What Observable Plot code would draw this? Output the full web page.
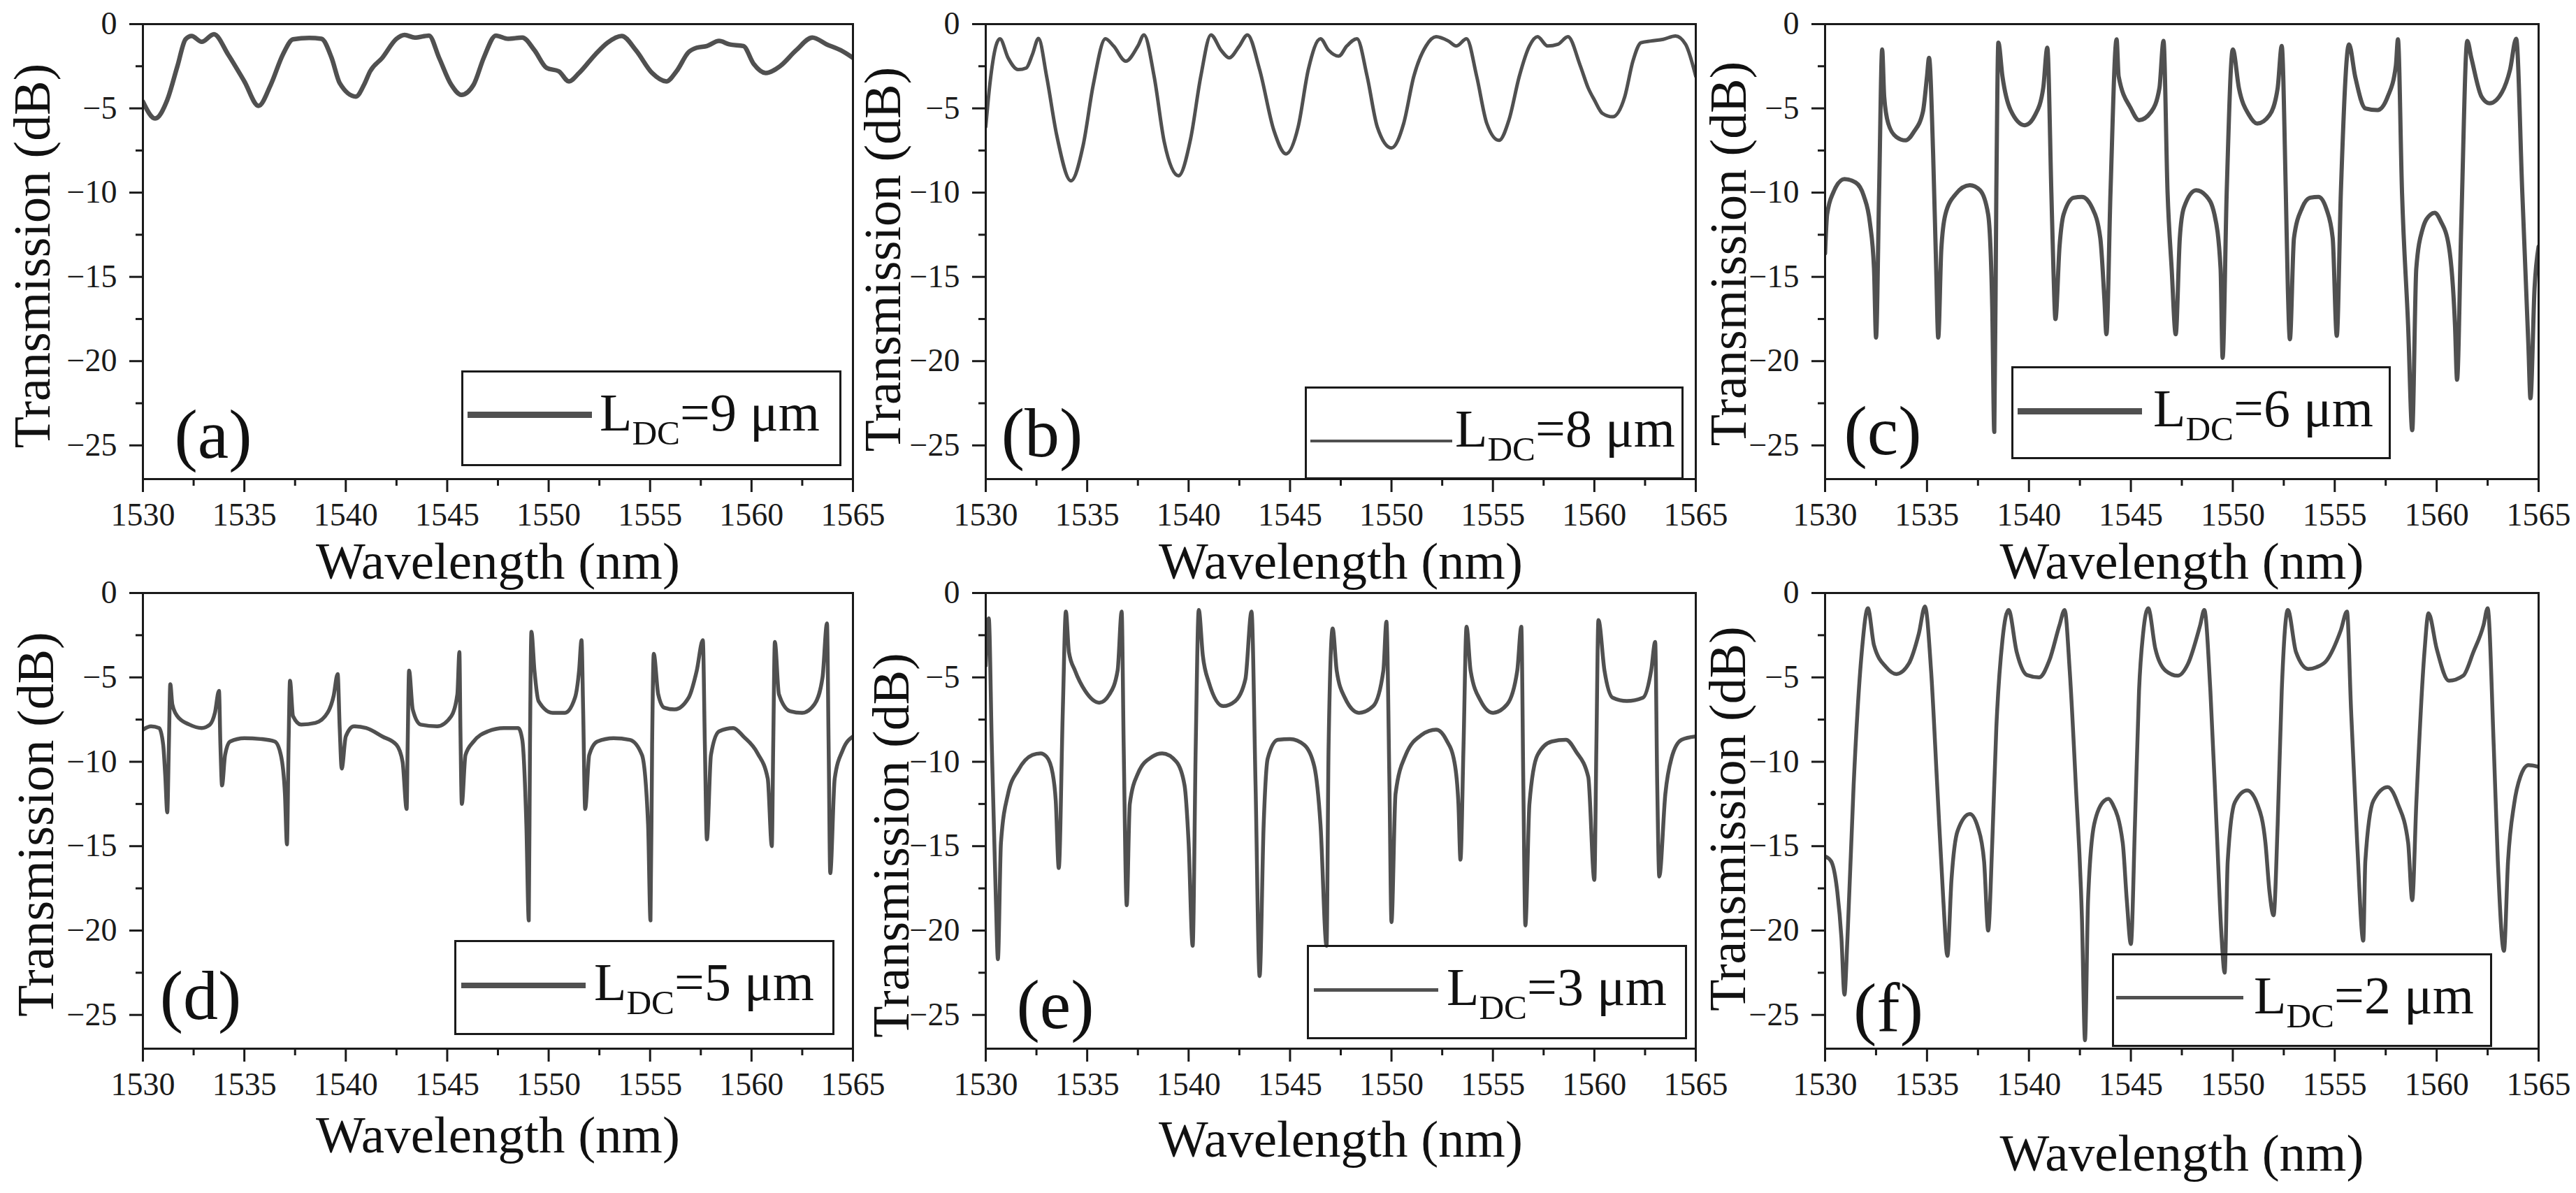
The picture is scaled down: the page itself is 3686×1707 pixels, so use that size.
<!DOCTYPE html>
<html><head><meta charset="utf-8">
<script src="https://cdn.jsdelivr.net/npm/d3@7"></script>
<script src="https://cdn.jsdelivr.net/npm/@observablehq/plot@0.6"></script>
<style>
html,body{margin:0;padding:0;background:#fff;}
#fig{position:relative;width:3686px;height:1707px;overflow:hidden;background:#fff;font-family:"Liberation Serif","Times New Roman",serif;color:#111;}
.pp{position:absolute;}
.pp svg text{font-family:"Liberation Serif","Times New Roman",serif;}
.legend{position:absolute;border:3px solid #1a1a1a;box-sizing:border-box;}
.legend .ln{position:absolute;background:#505050;}
.legend .txt{position:absolute;font-size:76px;line-height:1;white-space:nowrap;color:#111;}
.legend .sub{font-size:0.65em;position:relative;top:0.4em;}
.plabel{position:absolute;font-size:100px;line-height:1;transform:translate(-50%,-50%);white-space:nowrap;color:#111;}
</style></head><body><div id="fig"></div>
<script>
// ---------- data (wavelength nm, transmission dB) ----------
const xTicks = [1530,1535,1540,1545,1550,1555,1560,1565];
const xMinor = [1532.5,1537.5,1542.5,1547.5,1552.5,1557.5,1562.5];
const yTicks = [0,-5,-10,-15,-20,-25];
const yMinor = [-2.5,-7.5,-12.5,-17.5,-22.5];
const ldcValues = [9,8,6,5,3,2];
const panelLetters = ["(a)","(b)","(c)","(d)","(e)","(f)"];

const curveA = [[1530.0,-4.6],[1530.6,-5.6],[1531.2,-4.5],[1531.7,-2.5],[1532.1,-0.9],[1532.4,-0.7],[1532.9,-1.05],[1533.5,-0.6],[1534.2,-1.8],[1535.0,-3.4],[1535.7,-4.85],[1536.3,-3.6],[1536.9,-1.8],[1537.4,-0.9],[1538.2,-0.82],[1538.8,-0.87],[1539.3,-2.0],[1539.7,-3.5],[1540.5,-4.3],[1540.9,-3.6],[1541.2,-2.8],[1541.8,-2.0],[1542.5,-0.87],[1542.9,-0.64],[1543.4,-0.8],[1544.1,-0.68],[1544.6,-2.0],[1545.2,-3.6],[1545.7,-4.2],[1546.3,-3.6],[1546.8,-2.0],[1547.4,-0.68],[1548.0,-0.87],[1548.7,-0.8],[1549.3,-1.55],[1549.9,-2.6],[1550.5,-2.8],[1551.0,-3.4],[1551.5,-2.9],[1552.3,-1.8],[1552.9,-1.1],[1553.6,-0.7],[1554.3,-1.55],[1555.1,-2.9],[1555.8,-3.4],[1556.3,-2.8],[1556.9,-1.66],[1557.3,-1.4],[1557.8,-1.3],[1558.4,-1.0],[1558.9,-1.2],[1559.6,-1.3],[1560.1,-2.35],[1560.7,-2.9],[1561.4,-2.5],[1562.2,-1.55],[1563.0,-0.8],[1563.7,-1.2],[1564.4,-1.55],[1565.0,-2.0]];

const curveB = [[1530.0,-6.1],[1530.2,-3.6],[1530.5,-1.3],[1530.7,-0.87],[1531.1,-2.0],[1531.6,-2.7],[1532.0,-2.6],[1532.3,-1.8],[1532.6,-0.85],[1533.0,-3.1],[1533.5,-6.6],[1534.2,-9.3],[1534.8,-7.2],[1535.3,-3.6],[1535.9,-0.87],[1536.3,-1.3],[1536.9,-2.2],[1537.5,-1.3],[1537.8,-0.64],[1538.3,-3.1],[1538.8,-7.0],[1539.5,-9.0],[1540.1,-6.8],[1540.6,-3.1],[1541.1,-0.64],[1541.6,-1.55],[1542.0,-2.0],[1542.5,-1.3],[1542.9,-0.64],[1543.5,-2.7],[1544.2,-6.3],[1544.8,-7.7],[1545.4,-6.1],[1545.9,-2.7],[1546.5,-0.87],[1546.9,-1.55],[1547.4,-1.9],[1547.8,-1.3],[1548.3,-0.87],[1548.8,-3.1],[1549.3,-6.1],[1550.0,-7.35],[1550.6,-5.9],[1551.1,-3.1],[1551.7,-1.3],[1552.2,-0.75],[1552.8,-1.0],[1553.2,-1.3],[1553.7,-0.87],[1554.2,-3.1],[1554.7,-5.9],[1555.3,-6.9],[1555.8,-5.65],[1556.3,-3.1],[1556.8,-1.3],[1557.2,-0.75],[1557.7,-1.3],[1558.2,-1.2],[1558.7,-0.75],[1559.3,-2.45],[1559.7,-3.8],[1560.0,-4.5],[1560.4,-5.3],[1560.9,-5.5],[1561.5,-4.3],[1561.9,-2.2],[1562.3,-1.1],[1562.8,-1.0],[1563.4,-0.9],[1564.0,-0.7],[1564.5,-1.2],[1565.0,-3.1]];

const curveC = [[1530.0,-13.6],[1530.1,-11.3],[1530.4,-10.0],[1530.95,-9.2],[1531.5,-9.4],[1531.9,-10.2],[1532.2,-11.8],[1532.4,-14.5],[1532.5,-18.6],[1532.65,-10.0],[1532.8,-1.5],[1532.9,-4.3],[1533.1,-5.9],[1533.5,-6.7],[1533.95,-6.9],[1534.35,-6.4],[1534.8,-5.2],[1535.0,-3.1],[1535.1,-2.0],[1535.3,-7.7],[1535.45,-14.5],[1535.55,-18.6],[1535.7,-13.4],[1535.9,-11.3],[1536.4,-10.1],[1537.1,-9.56],[1537.6,-9.86],[1538.0,-11.3],[1538.2,-16.8],[1538.3,-24.2],[1538.4,-10.0],[1538.5,-1.1],[1538.7,-3.1],[1539.1,-5.1],[1539.8,-6.0],[1540.3,-5.4],[1540.7,-3.8],[1540.9,-1.4],[1541.1,-10.0],[1541.2,-14.5],[1541.3,-17.5],[1541.5,-13.2],[1541.7,-11.3],[1542.2,-10.3],[1542.6,-10.25],[1543.1,-10.9],[1543.5,-12.7],[1543.7,-16.3],[1543.8,-18.4],[1544.0,-10.0],[1544.3,-0.9],[1544.4,-3.1],[1545.0,-5.0],[1545.4,-5.7],[1546.0,-5.2],[1546.4,-3.8],[1546.6,-1.0],[1546.8,-10.0],[1547.0,-14.5],[1547.2,-18.4],[1547.4,-12.7],[1547.6,-10.9],[1548.2,-9.86],[1548.7,-10.2],[1549.1,-11.3],[1549.4,-14.5],[1549.5,-19.8],[1549.7,-10.0],[1550.0,-1.5],[1550.3,-3.8],[1550.8,-5.4],[1551.2,-5.9],[1551.8,-5.4],[1552.2,-3.8],[1552.4,-1.3],[1552.6,-10.0],[1552.7,-15.7],[1552.8,-18.7],[1553.0,-12.7],[1553.4,-10.9],[1553.8,-10.3],[1554.2,-10.25],[1554.6,-11.0],[1554.9,-12.7],[1555.1,-18.5],[1555.3,-10.0],[1555.7,-1.2],[1556.0,-3.1],[1556.5,-5.0],[1557.1,-5.1],[1557.6,-4.3],[1558.0,-2.45],[1558.1,-0.9],[1558.3,-10.0],[1558.6,-17.9],[1558.8,-24.1],[1559.0,-14.5],[1559.3,-12.2],[1559.7,-11.3],[1559.9,-11.2],[1560.2,-11.7],[1560.6,-13.2],[1560.9,-17.9],[1561.0,-21.1],[1561.2,-12.2],[1561.5,-1.0],[1561.7,-2.0],[1562.2,-4.3],[1562.6,-4.7],[1563.2,-4.05],[1563.6,-2.7],[1563.9,-0.87],[1564.2,-10.0],[1564.5,-19.1],[1564.6,-22.2],[1564.8,-15.7],[1565.0,-13.2]];

const curveD = [[1530.0,-8.1],[1530.4,-7.9],[1530.8,-8.0],[1531.0,-9.0],[1531.1,-10.8],[1531.2,-13.0],[1531.28,-9.0],[1531.35,-5.4],[1531.45,-6.6],[1531.7,-7.3],[1532.3,-7.8],[1532.9,-8.0],[1533.3,-7.8],[1533.55,-7.1],[1533.75,-5.8],[1533.82,-9.0],[1533.9,-11.4],[1534.05,-9.6],[1534.3,-8.8],[1535.0,-8.6],[1535.8,-8.65],[1536.5,-8.8],[1536.8,-9.6],[1537.0,-11.9],[1537.1,-14.9],[1537.18,-9.0],[1537.25,-5.2],[1537.4,-7.3],[1537.8,-7.8],[1538.5,-7.7],[1539.1,-7.1],[1539.4,-6.1],[1539.6,-4.8],[1539.7,-8.0],[1539.8,-10.4],[1540.0,-8.5],[1540.4,-7.9],[1541.0,-8.0],[1541.8,-8.5],[1542.5,-9.0],[1542.8,-10.0],[1543.0,-12.8],[1543.05,-9.0],[1543.12,-4.6],[1543.3,-6.9],[1543.7,-7.8],[1544.5,-7.9],[1545.2,-7.3],[1545.5,-6.0],[1545.6,-3.5],[1545.65,-8.0],[1545.72,-12.5],[1545.9,-9.6],[1546.3,-8.8],[1547.0,-8.2],[1547.8,-8.0],[1548.5,-8.0],[1548.7,-8.7],[1548.9,-13.7],[1549.02,-19.4],[1549.08,-9.0],[1549.15,-2.3],[1549.3,-4.6],[1549.5,-6.4],[1550.2,-7.1],[1550.8,-7.1],[1551.3,-6.2],[1551.5,-4.6],[1551.62,-2.8],[1551.7,-6.9],[1551.8,-12.8],[1552.0,-9.6],[1552.4,-8.8],[1553.2,-8.6],[1554.0,-8.7],[1554.6,-9.6],[1554.9,-13.7],[1555.02,-19.4],[1555.1,-9.0],[1555.18,-3.6],[1555.4,-6.0],[1555.7,-6.8],[1556.2,-6.9],[1556.9,-6.2],[1557.3,-4.6],[1557.6,-2.8],[1557.7,-9.0],[1557.8,-14.6],[1558.0,-9.6],[1558.4,-8.2],[1559.1,-8.0],[1559.6,-8.5],[1560.3,-9.5],[1560.8,-11.0],[1561.0,-15.0],[1561.07,-9.0],[1561.15,-2.9],[1561.35,-6.0],[1561.9,-7.0],[1562.5,-7.1],[1563.1,-6.6],[1563.5,-5.0],[1563.72,-1.8],[1563.8,-9.0],[1563.88,-16.6],[1564.1,-11.0],[1564.5,-9.3],[1565.0,-8.5]];

const curveE = [[1530.0,-4.3],[1530.15,-1.5],[1530.3,-9.1],[1530.5,-18.2],[1530.6,-21.7],[1530.75,-14.8],[1531.1,-11.9],[1531.6,-10.5],[1532.3,-9.6],[1532.7,-9.5],[1533.0,-9.7],[1533.3,-10.7],[1533.45,-12.3],[1533.6,-16.3],[1533.8,-6.9],[1533.95,-1.1],[1534.1,-3.5],[1534.4,-4.6],[1534.9,-5.8],[1535.6,-6.5],[1536.1,-6.0],[1536.5,-4.6],[1536.7,-1.1],[1536.8,-9.1],[1536.95,-18.5],[1537.1,-12.5],[1537.5,-10.7],[1538.2,-9.7],[1538.7,-9.5],[1539.4,-10.0],[1539.8,-11.4],[1540.0,-14.8],[1540.2,-20.9],[1540.35,-9.1],[1540.5,-1.0],[1540.7,-3.7],[1541.0,-5.3],[1541.7,-6.7],[1542.3,-6.4],[1542.8,-5.1],[1543.1,-1.1],[1543.3,-11.4],[1543.5,-22.7],[1543.7,-13.7],[1543.9,-9.8],[1544.4,-8.7],[1545.0,-8.65],[1545.7,-9.0],[1546.2,-10.3],[1546.5,-13.7],[1546.8,-20.9],[1546.9,-9.1],[1547.1,-2.1],[1547.3,-4.6],[1547.7,-6.2],[1548.4,-7.1],[1549.1,-6.7],[1549.6,-4.6],[1549.75,-1.7],[1549.9,-11.4],[1550.0,-19.5],[1550.2,-11.9],[1550.7,-9.6],[1551.5,-8.4],[1552.2,-8.1],[1552.7,-8.7],[1553.1,-10.0],[1553.3,-12.5],[1553.4,-15.8],[1553.55,-9.1],[1553.7,-2.0],[1553.9,-4.6],[1554.4,-6.4],[1555.0,-7.1],[1555.7,-6.6],[1556.2,-4.6],[1556.4,-2.0],[1556.5,-11.4],[1556.6,-19.7],[1556.8,-12.5],[1557.2,-9.6],[1557.9,-8.8],[1558.6,-8.7],[1559.1,-9.4],[1559.7,-10.9],[1560.0,-17.0],[1560.1,-9.1],[1560.2,-1.6],[1560.5,-4.6],[1560.9,-6.2],[1561.6,-6.4],[1562.4,-6.2],[1562.8,-4.6],[1563.0,-2.9],[1563.1,-11.4],[1563.2,-16.8],[1563.5,-11.9],[1563.8,-9.8],[1564.3,-8.7],[1565.0,-8.5]];

const curveF = [[1530.0,-15.6],[1530.3,-15.9],[1530.6,-17.7],[1530.8,-20.4],[1530.95,-23.8],[1531.1,-20.4],[1531.4,-11.4],[1531.8,-3.5],[1532.1,-0.9],[1532.4,-3.1],[1533.0,-4.4],[1533.5,-4.8],[1534.1,-4.2],[1534.6,-2.4],[1534.9,-0.8],[1535.2,-4.6],[1535.5,-11.4],[1535.8,-18.2],[1536.0,-21.5],[1536.2,-17.0],[1536.5,-14.1],[1537.1,-13.1],[1537.5,-13.9],[1537.8,-15.9],[1538.0,-20.0],[1538.2,-14.8],[1538.4,-8.0],[1538.7,-2.8],[1539.0,-1.0],[1539.4,-3.5],[1539.9,-4.86],[1540.5,-5.0],[1541.0,-4.0],[1541.5,-1.9],[1541.75,-1.0],[1542.0,-4.6],[1542.3,-11.4],[1542.6,-19.3],[1542.75,-26.5],[1542.9,-18.2],[1543.2,-13.7],[1543.7,-12.3],[1543.9,-12.2],[1544.1,-12.5],[1544.6,-14.8],[1544.8,-18.2],[1545.0,-20.8],[1545.2,-13.7],[1545.4,-5.8],[1545.6,-2.4],[1545.85,-0.9],[1546.2,-3.3],[1546.7,-4.6],[1547.3,-4.9],[1547.8,-4.2],[1548.4,-1.9],[1548.6,-1.0],[1548.9,-5.8],[1549.2,-13.7],[1549.45,-20.4],[1549.6,-22.5],[1549.75,-15.9],[1550.1,-12.4],[1550.7,-11.7],[1551.2,-12.5],[1551.6,-14.8],[1551.8,-17.7],[1552.0,-19.1],[1552.2,-13.7],[1552.4,-5.8],[1552.7,-1.0],[1553.1,-3.5],[1553.7,-4.5],[1554.1,-4.4],[1554.6,-4.0],[1555.3,-2.2],[1555.6,-1.1],[1555.8,-6.9],[1556.1,-14.8],[1556.4,-20.6],[1556.5,-15.9],[1556.9,-12.3],[1557.6,-11.5],[1558.1,-12.5],[1558.6,-14.8],[1558.8,-18.2],[1559.0,-12.5],[1559.4,-3.5],[1559.6,-1.2],[1560.0,-3.3],[1560.6,-5.2],[1561.3,-4.9],[1561.8,-3.5],[1562.3,-1.9],[1562.5,-0.9],[1562.8,-9.1],[1563.0,-15.9],[1563.3,-21.2],[1563.5,-15.9],[1563.8,-12.5],[1564.1,-10.9],[1564.5,-10.2],[1565.0,-10.3]];

const curves = [curveA, curveB, curveC, curveD, curveE, curveF];

// ---------- layout (pixels) ----------
const layout = [
  {x0:204, x1:1220, y0:34, y1:685, lw:6.5, xtDy:118, ytDx:-157, ytDy:6,
   leg:{left:660,top:530,w:544,h:137,lineOff:9,lineLen:178,lineY:63,lineW:9,textOff:198}, lab:{x:305,y:622}},
  {x0:1410, x1:2426, y0:34, y1:685, lw:5, xtDy:118, ytDx:-146, ytDy:11,
   leg:{left:1867,top:553,w:542,h:133,lineOff:8,lineLen:203,lineY:78,lineW:4,textOff:215}, lab:{x:1491,y:620}},
  {x0:2611, x1:3632, y0:34, y1:685, lw:6, xtDy:118, ytDx:-137, ytDy:3,
   leg:{left:2878,top:524,w:543,h:133,lineOff:9,lineLen:178,lineY:64,lineW:9,textOff:203}, lab:{x:2694,y:617}},
  {x0:204, x1:1220, y0:848, y1:1500, lw:5.5, xtDy:124, ytDx:-152, ytDy:5,
   leg:{left:650,top:1345,w:544,h:136,lineOff:10,lineLen:178,lineY:65,lineW:8,textOff:200}, lab:{x:287,y:1425}},
  {x0:1410, x1:2426, y0:848, y1:1500, lw:5.5, xtDy:130, ytDx:-134, ytDy:35,
   leg:{left:1870,top:1352,w:544,h:135,lineOff:10,lineLen:178,lineY:64,lineW:5,textOff:200}, lab:{x:1510,y:1438}},
  {x0:2611, x1:3632, y0:848, y1:1500, lw:5.5, xtDy:150, ytDx:-138, ytDy:-3,
   leg:{left:3022,top:1364,w:544,h:134,lineOff:6,lineLen:182,lineY:63,lineW:5,textOff:203}, lab:{x:2702,y:1443}}
];

const fig = document.getElementById("fig");
const FONT = "Liberation Serif, Times New Roman, serif";
const mL = 230, mR = 20, mT = 20, mB = 200;

layout.forEach((L, i) => {
  const data = curves[i].map(([w, t]) => ({w, t}));
  const fw = L.x1 - L.x0, fh = L.y1 - L.y0;
  const svg = Plot.plot({
    width: mL + fw + mR, height: mT + fh + mB,
    marginLeft: mL, marginRight: mR, marginTop: mT, marginBottom: mB,
    style: {background: "transparent", overflow: "visible", fontFamily: FONT, color: "#1a1a1a", maxWidth: "none"},
    x: {domain: [1530, 1565]},
    y: {domain: [-27, 0]},
    marks: [
      Plot.axisX({ticks: xTicks, tickSize: 19, tickPadding: 15, fontSize: 46, fontFamily: FONT, label: null, strokeWidth: 3, tickFormat: d => String(d)}),
      Plot.axisX({ticks: xMinor, tickSize: 10, tickFormat: () => "", label: null, strokeWidth: 3}),
      Plot.axisY({ticks: yTicks, tickSize: 19, tickPadding: 18, fontSize: 46, fontFamily: FONT, label: null, strokeWidth: 3, tickFormat: d => d === 0 ? "0" : "\u2212" + Math.abs(d)}),
      Plot.axisY({ticks: yMinor, tickSize: 10, tickFormat: () => "", label: null, strokeWidth: 3}),
      Plot.line(data, {x: "w", y: "t", stroke: "#505050", strokeWidth: L.lw, curve: "monotone-x", clip: true, strokeLinejoin: "round", strokeLinecap: "round"}),
      Plot.frame({stroke: "#1a1a1a", strokeWidth: 3}),
      Plot.text(["Wavelength (nm)"], {text: d => d, frameAnchor: "bottom", textAnchor: "middle", dy: L.xtDy, fontSize: 75, fontFamily: FONT, lineAnchor: "middle", fill: "#111"}),
      Plot.text(["Transmission (dB)"], {text: d => d, frameAnchor: "left", textAnchor: "middle", dx: L.ytDx, dy: L.ytDy, rotate: -90, fontSize: 74, fontFamily: FONT, lineAnchor: "middle", fill: "#111"})
    ]
  });
  const wrap = document.createElement("div");
  wrap.className = "pp";
  wrap.style.left = (L.x0 - mL) + "px";
  wrap.style.top = (L.y0 - mT) + "px";
  wrap.appendChild(svg);
  fig.appendChild(wrap);

  // legend
  const g = L.leg;
  const leg = document.createElement("div");
  leg.className = "legend";
  leg.style.left = g.left + "px"; leg.style.top = g.top + "px";
  leg.style.width = g.w + "px"; leg.style.height = g.h + "px";
  const ln = document.createElement("div");
  ln.className = "ln";
  ln.style.left = (g.lineOff - 3) + "px";
  ln.style.width = g.lineLen + "px";
  ln.style.height = g.lineW + "px";
  ln.style.top = (g.lineY - 3 - g.lineW / 2) + "px";
  leg.appendChild(ln);
  const tx = document.createElement("div");
  tx.className = "txt";
  tx.style.left = (g.textOff - 3) + "px";
  tx.style.top = "19px";
  tx.innerHTML = 'L<span class="sub">DC</span>=' + ldcValues[i] + ' \u03bcm';
  leg.appendChild(tx);
  fig.appendChild(leg);

  // panel letter
  const lab = document.createElement("div");
  lab.className = "plabel";
  lab.style.left = L.lab.x + "px"; lab.style.top = L.lab.y + "px";
  lab.textContent = panelLetters[i];
  fig.appendChild(lab);
});
</script>
</body></html>
